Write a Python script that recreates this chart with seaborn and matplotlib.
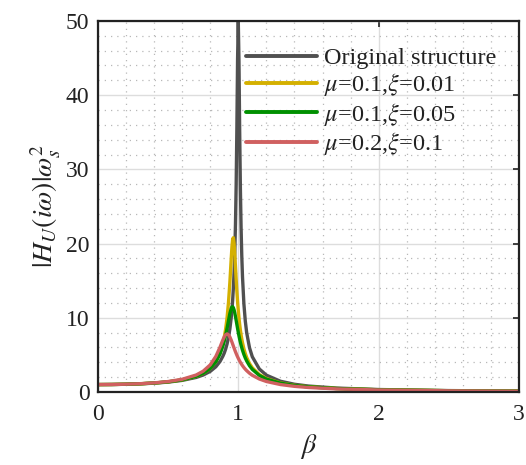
import numpy as np
import pandas as pd
import matplotlib
matplotlib.use("Agg")
import matplotlib.pyplot as plt
from matplotlib.ticker import MultipleLocator
import seaborn as sns

beta = [0, 0.1, 0.2, 0.3, 0.4, 0.5, 0.6, 0.7, 0.75, 0.8, 0.84, 0.87, 0.89, 0.90,
        0.91, 0.92, 0.93, 0.94, 0.95, 0.955, 0.96, 0.965, 0.97, 0.975, 0.98, 0.985,
        0.99, 0.995, 1.0, 1.005, 1.01, 1.015, 1.02, 1.025, 1.03, 1.04, 1.05, 1.06,
        1.08, 1.1, 1.15, 1.2, 1.3, 1.4, 1.5, 1.7, 2.0, 2.5, 3.0]

original = [1.000, 1.010, 1.042, 1.099, 1.190, 1.333, 1.562, 1.961, 2.286, 2.777,
            3.396, 4.113, 4.81, 5.24, 5.78, 6.46, 7.33, 8.48, 10.07, 11.11, 12.39,
            14.0, 16.08, 18.8, 22.6, 28.0, 35.6, 44.9, 50.0, 44.5, 35.1, 27.5, 22.1,
            18.3, 15.55, 11.87, 9.56, 7.97, 5.96, 4.74, 3.10, 2.27, 1.449, 1.042,
            0.800, 0.529, 0.333, 0.190, 0.125]

mu01_xi001 = [1.000, 1.011, 1.045, 1.107, 1.208, 1.367, 1.630, 2.110, 2.522, 3.186,
              4.093, 5.249, 6.488, 7.355, 8.478, 9.972, 12.0, 14.73, 18.05, 19.58,
              20.61, 20.79, 20.04, 18.62, 16.90, 15.17, 13.58, 12.19, 11.0, 9.975,
              9.10, 8.35, 7.70, 7.13, 6.64, 5.82, 5.17, 4.64, 3.835, 3.257, 2.342,
              1.809, 1.218, 0.900, 0.703, 0.474, 0.3026, 0.1747, 0.1151]

mu01_xi005 = [1.000, 1.011, 1.045, 1.108, 1.209, 1.370, 1.635, 2.116, 2.528, 3.184,
              4.058, 5.12, 6.172, 6.849, 7.649, 8.571, 9.583, 10.57, 11.29, 11.47,
              11.49, 11.35, 11.07, 10.66, 10.17, 9.643, 9.098, 8.562, 8.045, 7.558,
              7.106, 6.689, 6.304, 5.952, 5.629, 5.062, 4.584, 4.179, 3.532, 3.045,
              2.236, 1.745, 1.188, 0.882, 0.691, 0.467, 0.299, 0.1729, 0.1141]

mu02_xi01 = [1.000, 1.012, 1.049, 1.117, 1.228, 1.407, 1.712, 2.289, 2.804, 3.652,
             4.786, 6.041, 6.998, 7.418, 7.716, 7.828, 7.723, 7.417, 6.972, 6.718,
             6.455, 6.190, 5.927, 5.670, 5.421, 5.183, 4.957, 4.742, 4.540, 4.349,
             4.169, 4.001, 3.842, 3.693, 3.553, 3.298, 3.071, 2.870, 2.528, 2.251,
             1.749, 1.416, 1.004, 0.763, 0.607, 0.417, 0.2706, 0.158, 0.1047]

labels = ["Original structure", r"$\mu$=0.1,$\xi$=0.01",
          r"$\mu$=0.1,$\xi$=0.05", r"$\mu$=0.2,$\xi$=0.1"]
colors = ["#505050", "#D4B000", "#009000", "#D06060"]
x_ticks = [0, 1, 2, 3]
y_ticks = [0, 10, 20, 30, 40, 50]

series = [original, mu01_xi001, mu01_xi005, mu02_xi01]
df = pd.concat([pd.DataFrame({"beta": beta, "H": s, "case": lab})
                for s, lab in zip(series, labels)], ignore_index=True)

sns.set_theme(style="white")
plt.rcParams["font.family"] = ["Liberation Serif", "DejaVu Serif"]
plt.rcParams["mathtext.fontset"] = "stix"

fig = plt.figure(figsize=(5.26, 4.65), dpi=100)
ax = fig.add_axes([0.186, 0.157, 0.801, 0.798])

sns.lineplot(data=df, x="beta", y="H", hue="case", hue_order=labels,
             palette=colors, linewidth=2.4, sort=False, estimator=None, ax=ax)

ax.set_xlim(0, 3)
ax.set_ylim(0, 50)
ax.set_xticks(x_ticks)
ax.set_yticks(y_ticks)
ax.xaxis.set_minor_locator(MultipleLocator(0.2))
ax.yaxis.set_minor_locator(MultipleLocator(2))
ax.grid(which="major", color="#dddddd", linewidth=1.0, linestyle="-")
ax.grid(which="minor", color="#b8b8b8", linewidth=0.9, linestyle=(0, (1, 4)))
ax.set_axisbelow(True)

ax.tick_params(axis="both", which="major", direction="in", length=4, width=1.2,
               labelsize=17, colors="#222222", top=True, right=True)
ax.tick_params(axis="x", which="major", pad=9)
ax.tick_params(axis="y", which="major", pad=6)
ax.tick_params(which="minor", length=0)
for sp in ax.spines.values():
    sp.set_color("#222222")
    sp.set_linewidth(1.6)

ax.set_xlabel(r"$\beta$", fontsize=20, color="#222222", labelpad=5)
ax.set_ylabel(r"$|H_U(i\omega)|\omega_s^2$", fontsize=20, color="#222222", labelpad=2)

leg = ax.legend(loc="upper right", bbox_to_anchor=(0.981, 0.969), frameon=False,
                fontsize=17.5, handlelength=2.9, handletextpad=0.3,
                labelspacing=0.1, borderaxespad=0.2)
for line in leg.get_lines():
    line.set_linewidth(2.8)
for t in leg.get_texts():
    t.set_color("#222222")

fig.savefig("out.png", dpi=100)
